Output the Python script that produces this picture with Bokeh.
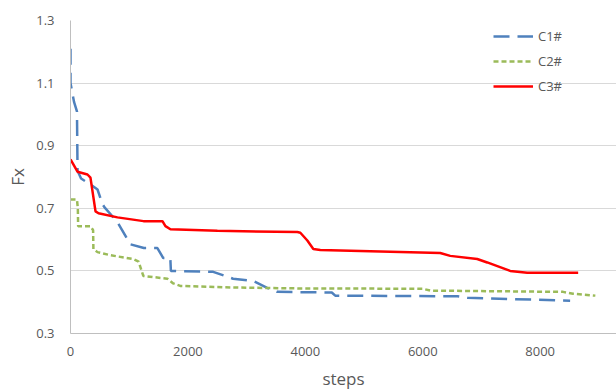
from bokeh.plotting import figure
from bokeh.models import Range1d, FixedTicker, Legend, LegendItem
from bokeh.embed import file_html
from bokeh.resources import INLINE

# ---- data ----
c1_x = [0, 0, 60, 110, 120, 180, 340, 460, 545, 580, 800, 1020, 1250, 1480, 1580, 1700, 1710,
        2430, 2770, 3110, 3350, 3520, 4450, 4510, 6590, 6760, 8510]
c1_y = [1.21, 1.10, 1.04, 1.01, 0.82, 0.795, 0.776, 0.76, 0.713, 0.703, 0.656, 0.585, 0.573, 0.573,
        0.541, 0.541, 0.50, 0.497, 0.475, 0.468, 0.446, 0.433, 0.431, 0.421, 0.419, 0.414, 0.405]

c2_x = [0, 110, 125, 130, 340, 385, 390, 460, 680, 1070, 1160, 1240, 1650, 1750, 1870, 2770,
        3900, 6000, 6130, 8390, 8560, 8940]
c2_y = [0.728, 0.728, 0.70, 0.643, 0.643, 0.63, 0.57, 0.56, 0.55, 0.538, 0.53, 0.484, 0.475,
        0.46, 0.452, 0.447, 0.444, 0.443, 0.437, 0.433, 0.427, 0.421]

c3_x = [0, 119, 289, 340, 426, 477, 800, 1243, 1566, 1617, 1702, 2502, 3864, 3915, 4034, 4136,
        4255, 6298, 6468, 6928, 7098, 7489, 7779, 8119, 8647]
c3_y = [0.856, 0.817, 0.808, 0.798, 0.69, 0.684, 0.671, 0.659, 0.659, 0.643, 0.633, 0.628, 0.624,
        0.622, 0.597, 0.570, 0.567, 0.557, 0.548, 0.538, 0.527, 0.50, 0.494, 0.494, 0.494]

x_ticks = [0, 2000, 4000, 6000, 8000]
y_ticks = [0.3, 0.5, 0.7, 0.9, 1.1, 1.3]
series_names = ["C1#", "C2#", "C3#"]
x_label = "steps"
y_label = "Fx"

FONT = "Open Sans"
TXT = "#595959"

p = figure(width=616, height=392, output_backend="svg", toolbar_location=None,
           x_range=Range1d(0, 9300), y_range=Range1d(0.3, 1.3),
           min_border_left=70, min_border_right=0, min_border_top=20, min_border_bottom=57)
p.outline_line_color = None
p.background_fill_color = "white"

r1 = p.line(c1_x, c1_y, line_color="#4f81bd", line_width=2.5, line_dash="16 8")
r2 = p.line(c2_x, c2_y, line_color="#9bbb59", line_width=2.5, line_dash="5 3")
r3 = p.line(c3_x, c3_y, line_color="#ff0000", line_width=2.5)

p.xaxis.ticker = FixedTicker(ticks=x_ticks)
p.yaxis.ticker = FixedTicker(ticks=y_ticks)
p.xgrid.grid_line_color = None
p.ygrid.grid_line_color = "#d9d9d9"
p.ygrid.grid_line_width = 1

for ax in (p.xaxis, p.yaxis):
    ax.axis_line_color = "#bfbfbf"
    ax.axis_line_width = 1
    ax.major_tick_line_color = None
    ax.minor_tick_line_color = None
    ax.major_tick_out = 0
    ax.major_tick_in = 0
    ax.major_label_text_font = FONT
    ax.major_label_text_font_size = "13px"
    ax.major_label_text_color = TXT
    ax.axis_label_text_font = FONT
    ax.axis_label_text_font_size = "17px"
    ax.axis_label_text_color = TXT
    ax.axis_label_text_font_style = "normal"

p.xaxis.axis_label = x_label
p.yaxis.axis_label = y_label
p.xaxis.major_label_standoff = 13
p.yaxis.major_label_standoff = 16
p.xaxis.axis_label_standoff = 8
p.yaxis.axis_label_standoff = 4

legend = Legend(items=[LegendItem(label=series_names[0], renderers=[r1]),
                       LegendItem(label=series_names[1], renderers=[r2]),
                       LegendItem(label=series_names[2], renderers=[r3])],
                location=(423, 237))
legend.padding = 0
legend.margin = 0
legend.spacing = 5
legend.glyph_width = 40
legend.glyph_height = 20
legend.label_height = 20
legend.label_standoff = 5
legend.border_line_alpha = 0
legend.background_fill_alpha = 0
legend.label_text_font = FONT
legend.label_text_font_size = "13px"
legend.label_text_color = TXT
p.add_layout(legend)

open("out.html", "w").write(file_html(p, INLINE))
